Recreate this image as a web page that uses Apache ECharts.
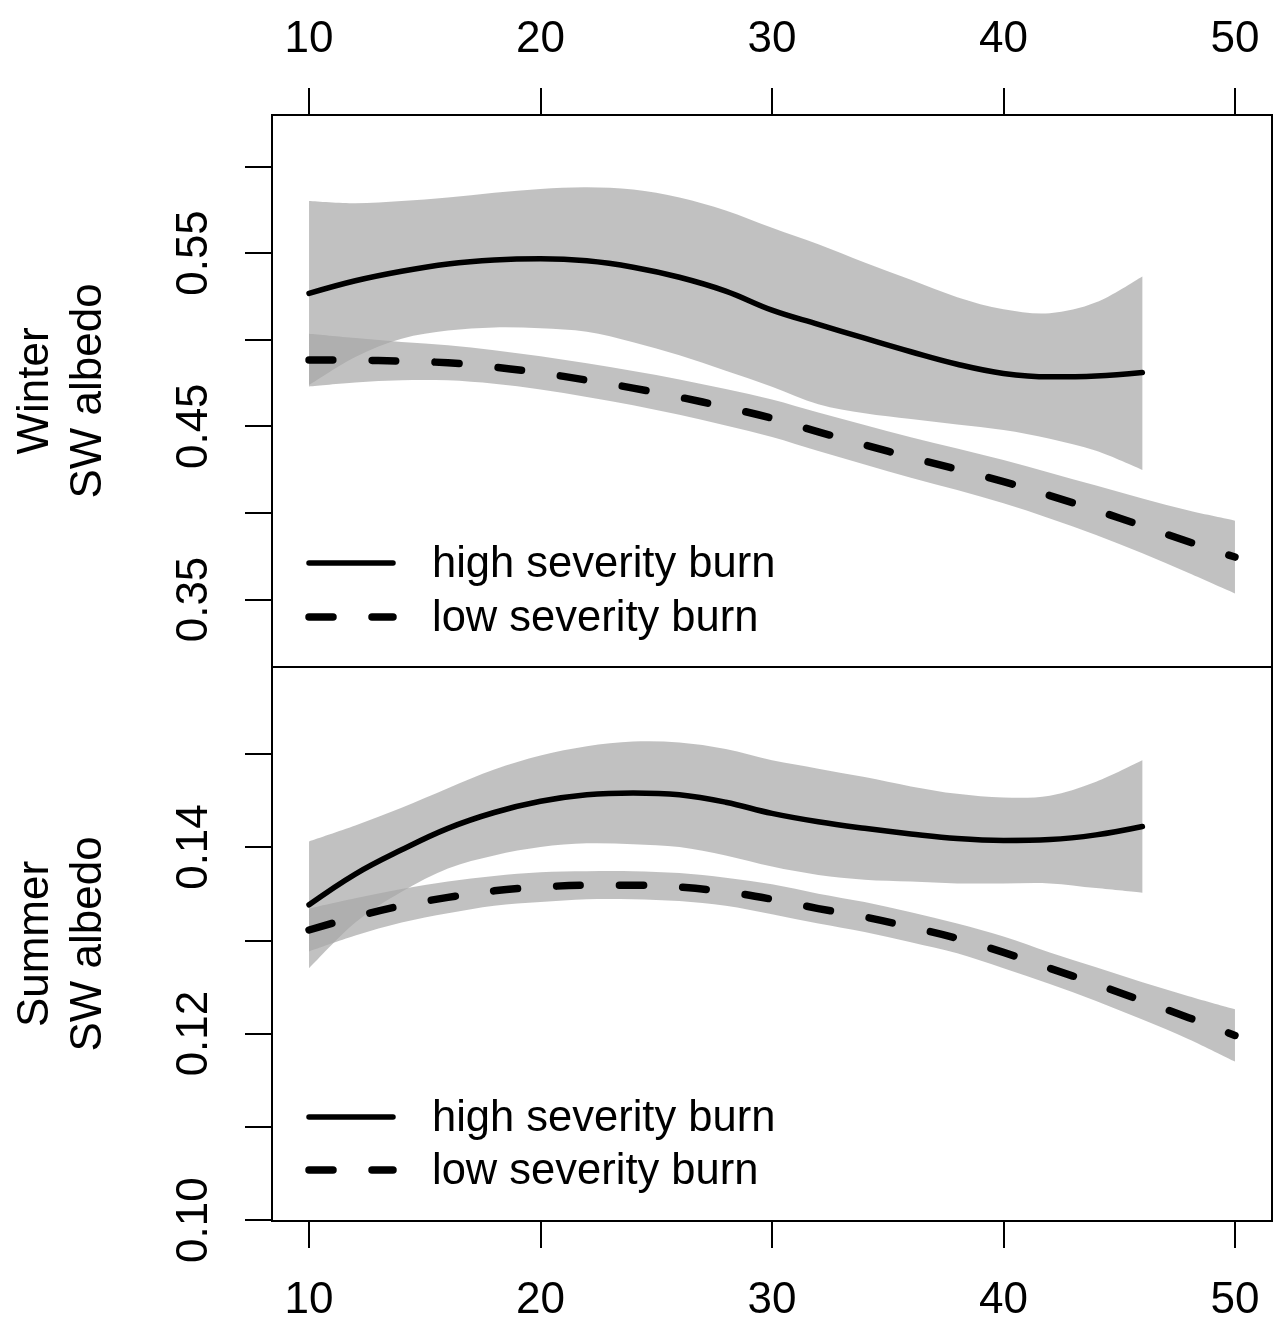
<!DOCTYPE html>
<html><head><meta charset="utf-8">
<script src="https://cdn.jsdelivr.net/npm/echarts@6/dist/echarts.min.js"></script>
<style>html,body{margin:0;padding:0;background:#fff}#c{width:1274px;height:1320px}</style>
</head><body><div id="c"></div>
<script>
// ---------- data ----------
const xTicks = [10, 20, 30, 40, 50];
const winterTicks = [0.35, 0.40, 0.45, 0.50, 0.55, 0.60];
const winterLabels = [0.35, 0.45, 0.55];
const summerTicks = [0.10, 0.11, 0.12, 0.13, 0.14, 0.15];
const summerLabels = [0.10, 0.12, 0.14];

const legendNames = ['high severity burn', 'low severity burn'];
const panelTitles = [['Winter', 'SW albedo'], ['Summer', 'SW albedo']];

const xHigh = [10,12,14,16,18,20,22,24,26,28,30,32,34,36,38,40,42,44,46];
const xLow  = [10,12,14,16,18,20,22,24,26,28,30,32,34,36,38,40,42,44,46,48,50];

const winterHigh      = [0.5267,0.5340,0.5395,0.5437,0.5460,0.5467,0.5455,0.5418,0.5360,0.5280,0.5170,0.5088,0.5008,0.4930,0.4858,0.4805,0.4785,0.4790,0.4810];
const winterHighUpper = [0.5800,0.5787,0.5800,0.5820,0.5848,0.5870,0.5880,0.5866,0.5820,0.5745,0.5645,0.5550,0.5445,0.5345,0.5245,0.5175,0.5152,0.5215,0.5365];
const winterHighLower = [0.4738,0.4900,0.5005,0.5052,0.5070,0.5065,0.5045,0.4985,0.4910,0.4820,0.4728,0.4627,0.4575,0.4542,0.4510,0.4478,0.4428,0.4358,0.4248];

const winterLow      = [0.4882,0.4881,0.4876,0.4866,0.4842,0.4808,0.4766,0.4720,0.4668,0.4610,0.4546,0.4468,0.4393,0.4320,0.4252,0.4180,0.4100,0.4015,0.3925,0.3833,0.3745];
const winterLowUpper = [0.5034,0.5009,0.4986,0.4967,0.4939,0.4904,0.4863,0.4819,0.4770,0.4715,0.4654,0.4579,0.4507,0.4437,0.4372,0.4305,0.4232,0.4158,0.4083,0.4013,0.3955];
const winterLowLower = [0.4730,0.4753,0.4766,0.4765,0.4745,0.4712,0.4669,0.4621,0.4566,0.4505,0.4438,0.4357,0.4279,0.4203,0.4132,0.4055,0.3968,0.3872,0.3767,0.3653,0.3535];

const summerHigh      = [0.1338,0.1371,0.1397,0.1420,0.1437,0.1449,0.1456,0.1458,0.1456,0.1448,0.1436,0.1427,0.1420,0.1414,0.1409,0.1407,0.1408,0.1413,0.1422];
const summerHighUpper = [0.1406,0.1423,0.1442,0.1463,0.1483,0.1498,0.1508,0.1513,0.1512,0.1505,0.1493,0.1484,0.1475,0.1465,0.1457,0.1453,0.1455,0.1470,0.1493];
const summerHighLower = [0.1270,0.1319,0.1352,0.1377,0.1391,0.1400,0.1404,0.1403,0.1400,0.1391,0.1379,0.1370,0.1365,0.1363,0.1361,0.1361,0.1361,0.1356,0.1351];

const summerLow      = [0.1311,0.1325,0.1337,0.1346,0.1353,0.1357,0.1359,0.1359,0.1357,0.1352,0.1344,0.1334,0.1325,0.1314,0.1302,0.1287,0.1270,0.1253,0.1235,0.1217,0.1198];
const summerLowUpper = [0.1334,0.1345,0.1355,0.1363,0.1369,0.1373,0.1374,0.1374,0.1372,0.1367,0.1360,0.1350,0.1341,0.1330,0.1318,0.1304,0.1287,0.1271,0.1255,0.1240,0.1226];
const summerLowLower = [0.1288,0.1305,0.1319,0.1329,0.1337,0.1341,0.1344,0.1344,0.1342,0.1337,0.1328,0.1318,0.1309,0.1298,0.1286,0.1270,0.1253,0.1235,0.1215,0.1194,0.1170];

// ---------- styling ----------
const FONT = '"Liberation Sans", Arial, Helvetica, sans-serif';
const FS = 44;
const FS_LEG = 43.5;
const BAND = 'rgba(166,166,166,0.7)';
const SOLID_W = 5.5, DASH_W = 7.5, DASH = [24, 39];

function crPath(pts) {
  let d = '';
  for (let i = 0; i < pts.length - 1; i++) {
    const p0 = pts[i - 1] || pts[i], p1 = pts[i], p2 = pts[i + 1], p3 = pts[i + 2] || p2;
    const c1 = [p1[0] + (p2[0] - p0[0]) / 6, p1[1] + (p2[1] - p0[1]) / 6];
    const c2 = [p2[0] - (p3[0] - p1[0]) / 6, p2[1] - (p3[1] - p1[1]) / 6];
    d += ` C ${c1[0]} ${c1[1]} ${c2[0]} ${c2[1]} ${p2[0]} ${p2[1]}`;
  }
  return d;
}

function band(xs, lo, hi, g) {
  return {
    type: 'custom', xAxisIndex: g, yAxisIndex: g, silent: true,
    data: xs.map((x, i) => [x, lo[i], hi[i]]),
    encode: { x: 0, y: [1, 2] },
    renderItem: function (params, api) {
      if (params.dataIndex !== 0) return null;
      const up = xs.map((x, i) => api.coord([x, hi[i]]));
      const dn = xs.map((x, i) => api.coord([x, lo[i]])).reverse();
      const d = `M ${up[0][0]} ${up[0][1]}` + crPath(up) +
                ` L ${dn[0][0]} ${dn[0][1]}` + crPath(dn) + ' Z';
      return { type: 'path', shape: { pathData: d }, style: { fill: BAND, stroke: null } };
    }
  };
}

function line(xs, ys, g, dashed) {
  return {
    type: 'line', xAxisIndex: g, yAxisIndex: g, silent: true,
    data: xs.map((x, i) => [x, ys[i]]),
    showSymbol: false, symbol: 'none', smooth: 0.4,
    lineStyle: { color: '#000', width: dashed ? DASH_W : SOLID_W, type: dashed ? DASH : 'solid', cap: 'round', join: 'round' },
    z: 5
  };
}

function xAxis(g, pos, margin) {
  return {
    type: 'value', gridIndex: g, position: pos, min: 8.4, max: 51.6,
    axisLine: { show: false }, splitLine: { show: false },
    axisTick: { show: true, inside: false, length: 27, customValues: xTicks, lineStyle: { color: '#000', width: 2 } },
    axisLabel: { show: true, customValues: xTicks, margin: margin, fontSize: FS, fontFamily: FONT, color: '#000' }
  };
}
function yAxis(g, min, max, ticks, labels) {
  return {
    type: 'value', gridIndex: g, position: 'left', min: min, max: max,
    axisLine: { show: false }, splitLine: { show: false },
    axisTick: { show: true, inside: false, length: 27, customValues: ticks, lineStyle: { color: '#000', width: 2 } },
    axisLabel: { show: true, customValues: labels, rotate: 90, margin: 55, fontSize: FS, fontFamily: FONT, color: '#000',
                 formatter: v => Number(v).toFixed(2) }
  };
}

function legendGraphics(yHigh, yLow) {
  return [
    { type: 'line', shape: { x1: 309, y1: yHigh, x2: 393, y2: yHigh }, style: { stroke: '#000', lineWidth: SOLID_W, lineCap: 'round' }, z: 10 },
    { type: 'line', shape: { x1: 309, y1: yLow, x2: 393, y2: yLow }, style: { stroke: '#000', lineWidth: DASH_W, lineDash: DASH, lineCap: 'round' }, z: 10 },
    { type: 'text', x: 432, y: yHigh + 2, style: { text: legendNames[0], fontSize: FS_LEG, fontFamily: FONT, fill: '#000', align: 'left', verticalAlign: 'middle' }, z: 10 },
    { type: 'text', x: 432, y: yLow + 2, style: { text: legendNames[1], fontSize: FS_LEG, fontFamily: FONT, fill: '#000', align: 'left', verticalAlign: 'middle' }, z: 10 }
  ];
}
function titleGraphics(lines, yc) {
  return [
    { type: 'text', x: 36, y: yc, rotation: Math.PI / 2, style: { text: lines[0], fontSize: FS, fontFamily: FONT, fill: '#000', align: 'center', verticalAlign: 'middle' } },
    { type: 'text', x: 89, y: yc, rotation: Math.PI / 2, style: { text: lines[1], fontSize: FS, fontFamily: FONT, fill: '#000', align: 'center', verticalAlign: 'middle' } }
  ];
}

const chart = echarts.init(document.getElementById('c'), null, { renderer: 'canvas', width: 1274, height: 1320 });
chart.setOption({
  animation: false,
  backgroundColor: '#fff',
  grid: [
    { left: 272, top: 115, width: 1000, height: 552, show: true, borderColor: '#000', borderWidth: 2, backgroundColor: 'transparent', containLabel: false, outerBoundsMode: 'none' },
    { left: 272, top: 667, width: 1000, height: 554, show: true, borderColor: '#000', borderWidth: 2, backgroundColor: 'transparent', containLabel: false, outerBoundsMode: 'none' }
  ],
  xAxis: [xAxis(0, 'top', 53), xAxis(1, 'bottom', 58)],
  yAxis: [yAxis(0, 0.31104, 0.62965, winterTicks, winterLabels), yAxis(1, 0.0999, 0.1593, summerTicks, summerLabels)],
  series: [
    band(xHigh, winterHighLower, winterHighUpper, 0),
    band(xLow, winterLowLower, winterLowUpper, 0),
    band(xHigh, summerHighLower, summerHighUpper, 1),
    band(xLow, summerLowLower, summerLowUpper, 1),
    line(xHigh, winterHigh, 0, false),
    line(xLow, winterLow, 0, true),
    line(xHigh, summerHigh, 1, false),
    line(xLow, summerLow, 1, true)
  ],
  graphic: [].concat(
    legendGraphics(563, 617),
    legendGraphics(1117, 1170),
    titleGraphics(panelTitles[0], 391),
    titleGraphics(panelTitles[1], 944)
  )
});
</script></body></html>
